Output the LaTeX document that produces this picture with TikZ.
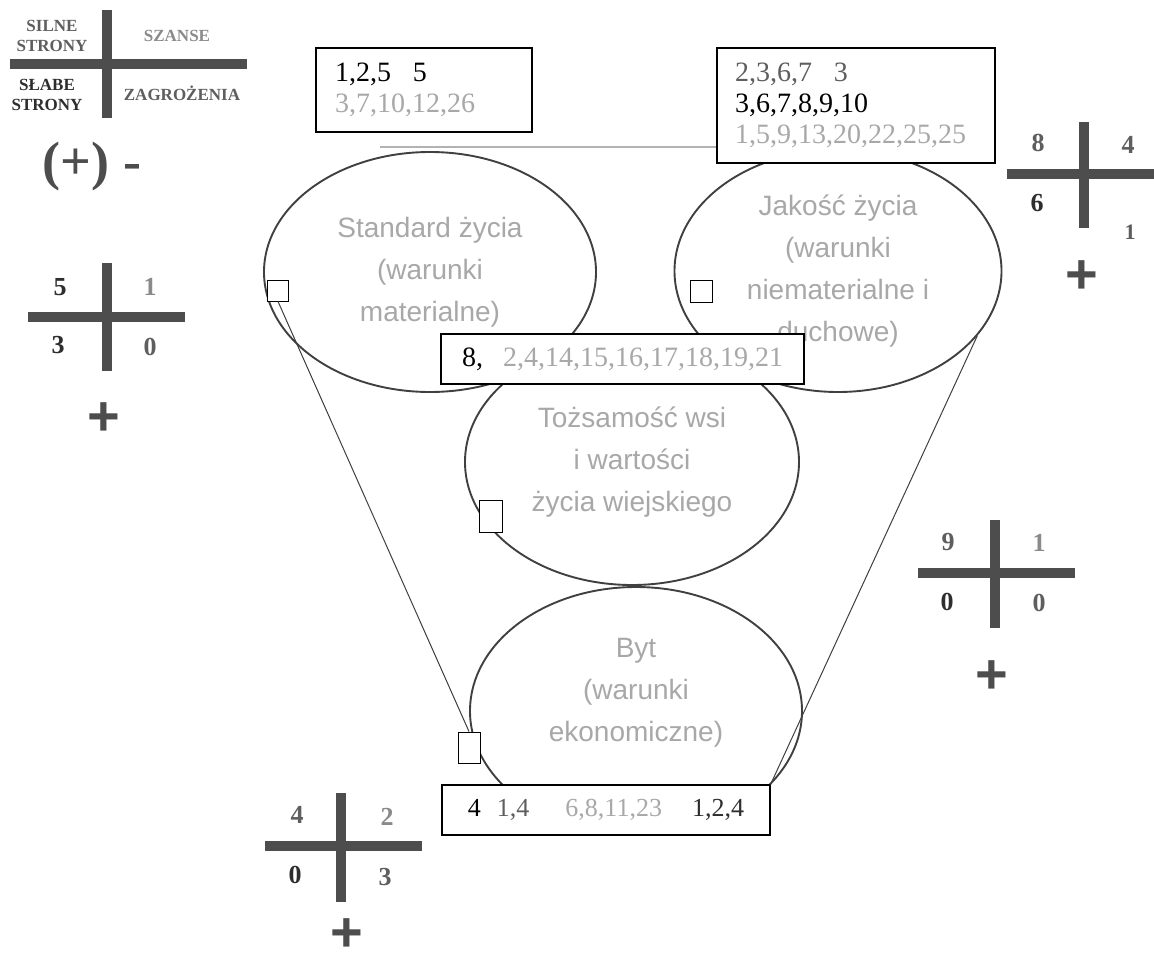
\documentclass[tikz,border=0pt]{standalone}
\usepackage{fontspec}
\setmainfont{Liberation Serif}
\setsansfont{Liberation Sans}
\usetikzlibrary{shapes.geometric}

\definecolor{bargray}{HTML}{4D4D4D}
\definecolor{numdark}{HTML}{2E2E2E}
\definecolor{nummid}{HTML}{5E5E5E}
\definecolor{numlight}{HTML}{8A8A8A}
\definecolor{txtlight}{HTML}{A8A8A8}
\definecolor{rimgray}{HTML}{404040}

\begin{document}
\begin{tikzpicture}[x=1pt,y=-1pt,
  crossbar/.style={draw=bargray,line width=10pt},
  legend/.style={align=center,inner sep=0pt,font=\bfseries\fontsize{17}{20}\selectfont},
  area/.style={ellipse,draw=rimgray,line width=1.9pt,inner sep=0pt,align=center,
    text=txtlight,font=\sffamily\fontsize{28}{42}\selectfont},
  numbox/.style={rectangle,draw=black,line width=1.1pt,fill=white,
    font=\fontsize{28}{31}\selectfont},
  tickbox/.style={rectangle,draw=black,line width=0.9pt,fill=white,inner sep=0pt},
  tally/.style={inner sep=0pt,font=\bfseries\fontsize{26}{26}\selectfont},
  plussign/.style={inner sep=0pt,text=bargray,font=\sffamily\bfseries\fontsize{56}{56}\selectfont},
  funnel/.style={draw=rimgray,line width=1pt}]
  \fill[white] (0,0) rectangle (1154,961);
  \useasboundingbox (0,0) rectangle (1154,961);

  % legend
  \draw[crossbar] (107,10) -- (107,118) (10,63.5) -- (247,63.5);
  \node[legend,text=nummid] (silne) at (52,36) {SILNE\\STRONY};
  \node[legend,text=numlight] (szanse) at (177,36) {SZANSE};
  \node[legend,text=numdark] (slabe) at (47,95) {SŁABE\\STRONY};
  \node[legend,text=nummid] (zagrozenia) at (182,93) {ZAGROŻENIA};
  \node[inner sep=0pt,text=bargray,font=\bfseries\fontsize{54}{54}\selectfont] (znaki) at (92,167) {(+) -};

  % the four areas
  \node[area,minimum width=332pt,minimum height=240pt] (standard) at (430,272) {Standard życia\\(warunki\\materialne)};
  \node[area,minimum width=327pt,minimum height=242pt] (jakosc) at (838,271) {Jakość życia\\(warunki\\niematerialne i\\duchowe)};
  \node[area,minimum width=334pt,minimum height=246pt] (tozsamosc) at (632,462) {Tożsamość wsi\\i wartości\\życia wiejskiego};
  \node[area,minimum width=332pt,minimum height=248pt] (byt) at (636,711) {Byt\\(warunki\\ekonomiczne)\\\mbox{}};

  % number boxes
  \node[numbox,minimum height=84pt,text width=178pt,inner xsep=19pt,align=left] (boxstd) at (424,90)
    {1,2,5\hspace*{22pt}5\\{\color{txtlight}3,7,10,12,26}};
  \node[numbox,minimum height=115pt,text width=242pt,inner xsep=18pt,align=left] (boxjak) at (856,105.5)
    {{\color{nummid}2,3,6,7\hspace*{22pt}3}\\3,6,7,8,9,10\\{\color{txtlight}1,5,9,13,20,22,25,25}};
  \coordinate (rail) at (380,147);
  \draw[draw=gray!60,line width=1.5pt] (rail) -- (rail -| boxjak.west);

  \node[tickbox,minimum width=21pt,minimum height=21pt] (sq1) at (278,290.5) {};
  \node[tickbox,minimum width=22pt,minimum height=22pt] (sq2) at (701,291) {};
  \node[tickbox,minimum width=23pt,minimum height=32pt] (sq3) at (490.5,516) {};
  \node[tickbox,minimum width=22pt,minimum height=31pt] (sq4) at (469,747.5) {};

  \node[numbox,minimum width=363pt,minimum height=50pt] (boxtoz) at (622.5,359)
    {8,\hspace*{20pt}{\color{txtlight}2,4,14,15,16,17,18,19,21}};
  \node[numbox,minimum width=328pt,minimum height=50pt,font=\fontsize{26}{28}\selectfont] (boxbyt) at (606,810)
    {4\hspace*{16pt}{\color{nummid}1,4}\hspace*{36pt}{\color{txtlight}6,8,11,23}\hspace*{30pt}{\color{numdark}1,2,4}};

  \draw[funnel] (sq1.south) -- (sq4.north);
  \draw[funnel] (jakosc.-25) -- (boxbyt.north east);

  % counts, left
  \draw[crossbar] (106.5,263) -- (106.5,371) (28,316.5) -- (185,316.5);
  \node[tally,text=numdark] (l5) at (60,287) {5};
  \node[tally,text=numlight] (l1) at (150,287) {1};
  \node[tally,text=numdark] (l3) at (58,345) {3};
  \node[tally,text=nummid] (l0) at (150,347) {0};
  \node[plussign] (lplus) at (104,419) {+};

  % counts, top right
  \draw[crossbar] (1084,122) -- (1084,228) (1007,173.5) -- (1154,173.5);
  \node[tally,text=nummid] (r8) at (1038,143) {8};
  \node[tally,text=nummid] (r4) at (1128,145) {4};
  \node[tally,text=numdark] (r6) at (1037,203) {6};
  \node[tally,text=nummid,font=\bfseries\fontsize{22}{22}\selectfont] (r1) at (1130,232) {1};
  \node[plussign] (rplus) at (1082,277) {+};

  % counts, middle right
  \draw[crossbar] (995,520) -- (995,628) (918,572.5) -- (1075,572.5);
  \node[tally,text=nummid] (m9) at (948,542) {9};
  \node[tally,text=numlight] (m1) at (1039,543) {1};
  \node[tally,text=numdark] (m0) at (947,602) {0};
  \node[tally,text=nummid] (m0b) at (1039,603) {0};
  \node[plussign] (mplus) at (992,677) {+};

  % counts, bottom left
  \draw[crossbar] (341,793) -- (341,902) (265,846) -- (422,846);
  \node[tally,text=nummid] (b4) at (297,815) {4};
  \node[tally,text=numlight] (b2) at (387,817) {2};
  \node[tally,text=numdark] (b0) at (295,875) {0};
  \node[tally,text=nummid] (b3) at (385,877) {3};
  \node[plussign] (bplus) at (347,935) {+};
\end{tikzpicture}
\end{document}
